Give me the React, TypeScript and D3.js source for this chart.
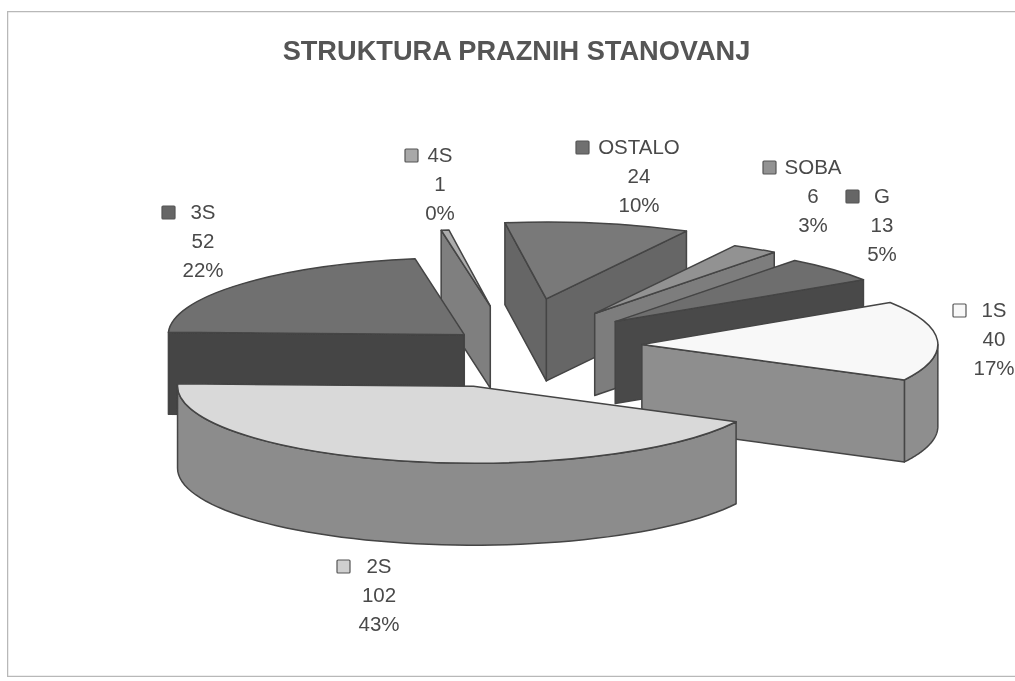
import React from 'react';
import * as d3 from 'd3';

const categories = ['1S', '2S', '3S', '4S', 'OSTALO', 'SOBA', 'G'];
const values = [40, 102, 52, 1, 24, 6, 13];
const percents = ['17%', '43%', '22%', '0%', '10%', '3%', '5%'];

// how far each slice is pulled out of the pie, px on the x radius
const explosions = [128, 160, 66, 155, 184, 149, 138];
const topColors = ['#f8f8f8', '#d9d9d9', '#6f6f6f', '#acacac', '#797979', '#929292', '#6e6e6e'];
const sideColors = ['#8e8e8e', '#8c8c8c', '#444444', '#7f7f7f', '#666666', '#7d7d7d', '#4a4a4a'];
const swatchColors = ['#f8f8f8', '#cfcfcf', '#666666', '#a8a8a8', '#707070', '#929292', '#666666'];
const labelCenters = [994, 379, 203, 440, 639, 813, 882];
const labelBaselines = [317, 573, 219, 162, 154, 174, 203];
const swatchX = [953, 337, 162, 405, 576, 763, 846];
const paintOrder = [3, 4, 5, 6, 2, 0, 1];

const width = 1015;
const height = 681;
const cx = 514;
const cy = 346;
const rx = 296;
const squash = 0.26;
const depth = 82;
const lineGap = 29;
const stroke = '#444';

const startAngle = (57 * Math.PI) / 180;
const arcs = d3.pie<number>().sort(null).startAngle(startAngle).endAngle(startAngle + 2 * Math.PI)(values);

const App = () => {
  const arcGen = d3.arc<d3.PieArcDatum<number>>().innerRadius(0).outerRadius(rx);
  const outline = d3.line<[number, number]>();

  const slices = paintOrder.map(i => {
    const a = arcs[i];
    const mid = (a.startAngle + a.endAngle) / 2;
    const ox = cx + explosions[i] * Math.sin(mid);
    const oy = cy - explosions[i] * Math.cos(mid) * squash;
    const pt = (t: number): [number, number] => [ox + rx * Math.sin(t), oy - rx * squash * Math.cos(t)];
    const wall = (t: number) => {
      const p = pt(t);
      return outline([[ox, oy], p, [p[0], p[1] + depth], [ox, oy + depth]]);
    };

    // the curved outside wall only shows on the front half of the pie
    const faces: string[] = [];
    const from = Math.max(a.startAngle, Math.PI / 2);
    const to = Math.min(a.endAngle, (3 * Math.PI) / 2);
    if (to > from) {
      const ts = d3.range(0, 61).map(k => from + ((to - from) * k) / 60);
      const upper = ts.map(pt);
      const lower = upper.map(p => [p[0], p[1] + depth] as [number, number]).reverse();
      faces.push(outline([...upper, ...lower]) + 'Z');
    }
    if (Math.sin(a.endAngle) > 0) faces.push(wall(a.endAngle) + 'Z');
    if (Math.sin(a.startAngle) < 0) faces.push(wall(a.startAngle) + 'Z');

    return (
      <g key={categories[i]}>
        {faces.map((d, k) => (
          <path key={k} d={d} fill={sideColors[i]} stroke={stroke} strokeWidth={1.5} strokeLinejoin="round" />
        ))}
        <path
          d={arcGen(a) as string}
          transform={`translate(${ox},${oy}) scale(1,${squash})`}
          fill={topColors[i]}
          stroke={stroke}
          strokeWidth={1.5}
          strokeLinejoin="round"
          vectorEffect="non-scaling-stroke"
        />
      </g>
    );
  });

  return (
    <svg width={width} height={height} style={{ position: 'absolute', left: 0, top: 0, background: '#fff' }}>
      <defs>
        <filter id="scan" x="0" y="0" width="100%" height="100%">
          <feGaussianBlur stdDeviation="0.55" />
        </filter>
      </defs>
      <g filter="url(#scan)" fontFamily="'Liberation Sans', Arial, sans-serif">
        <rect x={7.5} y={11.5} width={width + 20} height={665} fill="none" stroke="#b8b8b8" strokeWidth={1.5} />
        <text x={516.5} y={60} textAnchor="middle" fontSize={27.2} fontWeight="bold" fill="#555">
          STRUKTURA PRAZNIH STANOVANJ
        </text>
        {slices}
        {categories.map((c, i) => (
          <g key={c} fontSize={20.5} fill="#4a4a4a" textAnchor="middle">
            <rect
              x={swatchX[i]}
              y={labelBaselines[i] - 13}
              width={13}
              height={13}
              rx={1}
              fill={swatchColors[i]}
              stroke="#555"
              strokeWidth={1.2}
            />
            <text x={labelCenters[i]} y={labelBaselines[i]}>{c}</text>
            <text x={labelCenters[i]} y={labelBaselines[i] + lineGap}>{values[i]}</text>
            <text x={labelCenters[i]} y={labelBaselines[i] + lineGap * 2}>{percents[i]}</text>
          </g>
        ))}
      </g>
    </svg>
  );
};

export default App;
